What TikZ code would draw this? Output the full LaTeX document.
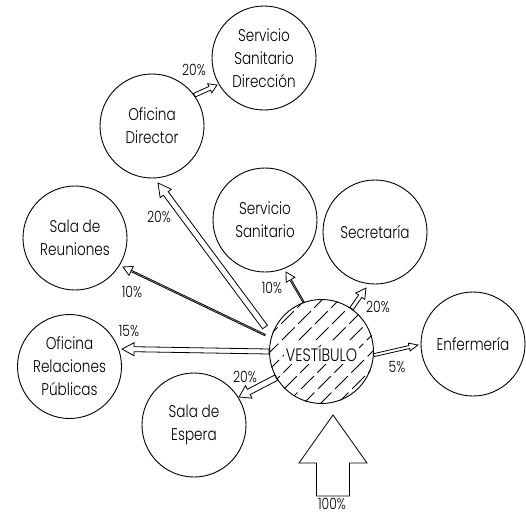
\documentclass[tikz,border=0pt]{standalone}
\usepackage{fontspec}
\setmainfont{Poppins Light}[FakeStretch=0.8]
\usetikzlibrary{calc}
\tikzset{
 room/.style={circle,draw,line width=0.9pt,minimum size=104pt,inner sep=0pt,align=center,font=\fontsize{17}{23}\selectfont},
 pct/.style={font=\fontsize{15.5}{15.5}\selectfont,inner sep=0pt},
 flow/.style={draw,fill=white,line width=0.8pt,line join=miter},
 hatch/.style={line width=0.75pt,dash pattern=on 18pt off 5pt}
}
\newcommand\flowarrow[5]{%
 \coordinate (fa-c) at ($(#2)!#5pt!(#1)$);
 \draw[flow] ($(#1)!#3pt!90:(#2)$) -- ($(fa-c)!#3pt!-90:(#1)$) -- ($(fa-c)!#4pt!-90:(#1)$) -- (#2) -- ($(fa-c)!#4pt!90:(#1)$) -- ($(fa-c)!#3pt!90:(#1)$) -- ($(#1)!#3pt!-90:(#2)$) -- cycle;}
\begin{document}
\begin{tikzpicture}[x=1pt,y=-1pt]
\useasboundingbox (0,0) rectangle (526,514);
% hatching of the vestibule
\coordinate (vc) at (321.5,351.5);
\begin{scope}
\clip (vc) circle (52.5pt);
\foreach \k in {-6,...,6} \draw[hatch] ($(vc)+(\k*17-70,70)$) -- ++(140,-140);
\end{scope}
% rooms
\node[room,label={[fill=white,inner sep=2pt,font=\fontsize{18}{18}\selectfont,yshift=-2pt]center:VESTÍBULO}] (vest) at (vc) {};
\node[room] (ssd) at (264,58) {Servicio\\Sanitario\\Dirección};
\node[room] (dir) at (152,126) {Oficina\\Director};
\node[room] (reu) at (75,238) {Sala de\\Reuniones};
\node[room] (ss) at (265,220) {Servicio\\Sanitario};
\node[room] (sec) at (375,232) {Secretaría};
\node[room] (enf) at (473,344) {Enfermería};
\node[room] (orp) at (69.5,366.5) {Oficina\\Relaciones\\Públicas};
\node[room] (esp) at (194,425) {Sala de\\Espera};
% arrow end points
\coordinate (e1t) at (418,345);
\coordinate (e2t) at (366,288);
\coordinate (e3t) at (286,272);
\coordinate (e4s) at (265,327);
\coordinate (e4t) at (158,183);
\coordinate (e5s) at (265,335);
\coordinate (e5t) at (123,267);
\coordinate (e6t) at (122,349);
\coordinate (e7t) at (239,397);
\coordinate (e8t) at (217,85);
\coordinate (ins) at (333,496);
\coordinate (inpt) at (333,415);
% flows
\flowarrow{vest.-4}{e1t}{1.5}{4}{9}
\flowarrow{vest.55}{e2t}{2}{5.5}{10}
\flowarrow{vest.110}{e3t}{0.7}{5}{9}
\flowarrow{e4s}{e4t}{3}{7}{13}
\flowarrow{e5s}{e5t}{0.7}{5}{9}
\flowarrow{vest.180}{e6t}{2.5}{6.5}{12}
\flowarrow{vest.-150}{e7t}{3}{7}{11}
\flowarrow{dir.36}{e8t}{2}{5}{8}
\flowarrow{ins}{inpt}{16.5}{34}{48}
% percentages
\node[pct] (p8) at (194,70) {20\%};
\node[pct] (p4) at (159,217) {20\%};
\node[pct] (p5) at (132,292) {10\%};
\node[pct] (p6) at (129,331) {15\%};
\node[pct] (p7) at (245,377) {20\%};
\node[pct] (p3) at (272,288) {10\%};
\node[pct] (p2) at (378,307) {20\%};
\node[pct] (p1) at (397,367) {5\%};
\node[pct] (p0) at (332,504) {100\%};
\end{tikzpicture}
\end{document}
